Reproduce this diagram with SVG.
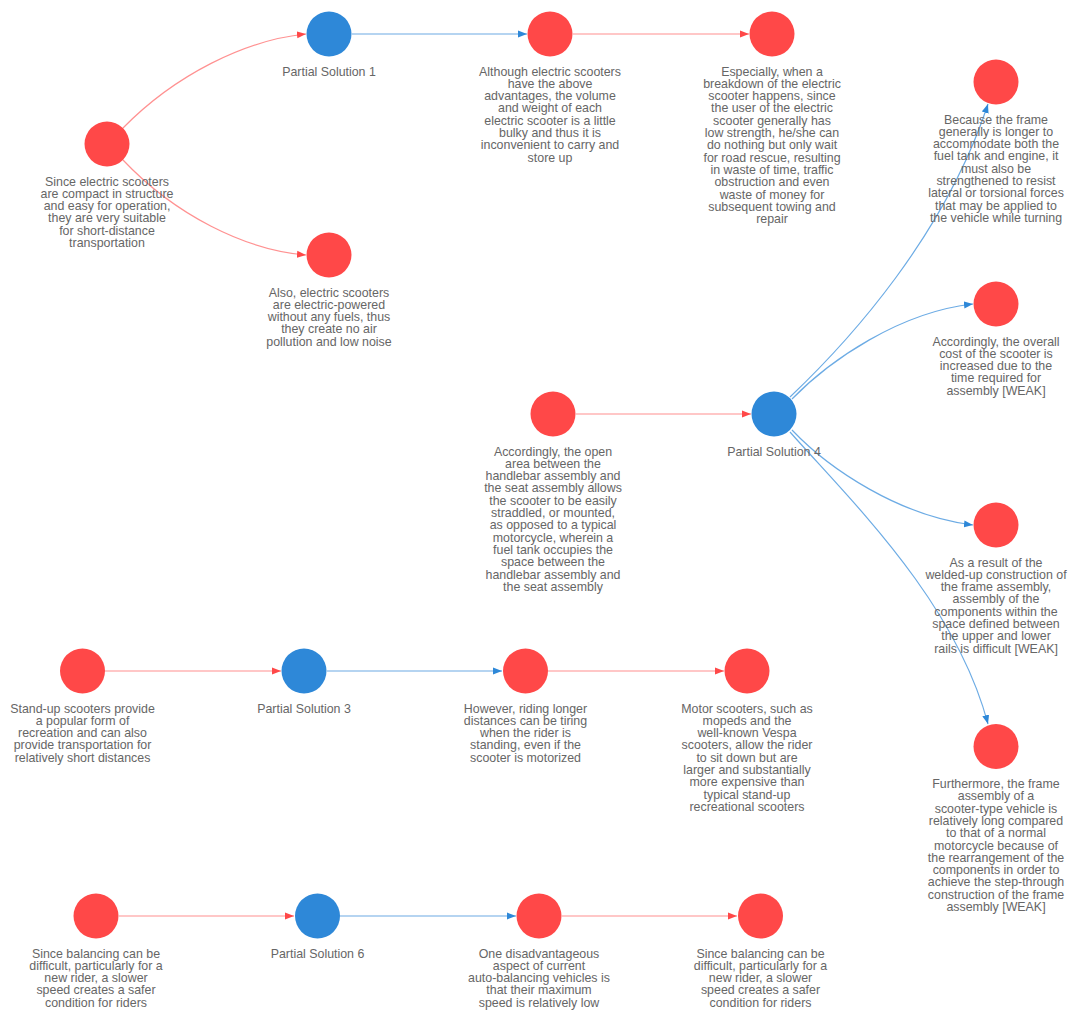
<svg xmlns="http://www.w3.org/2000/svg" width="1072" height="1012" viewBox="0 0 1072 1012">
  <style>
    .red { fill: #ff4848; }
    .blue { fill: #2e88d8; }
    .lbl { font-family: "Liberation Sans", Arial, sans-serif; font-size: 12.4px; fill: #666666; text-anchor: middle; }
    .er { fill: none; stroke: #ff4848; stroke-opacity: 0.6; stroke-width: 1.2; marker-end: url(#ar); }
    .eb { fill: none; stroke: #2e88d8; stroke-opacity: 0.7; stroke-width: 1.2; marker-end: url(#ab); }
  </style>
  <defs>
    <marker id="ar" markerUnits="userSpaceOnUse" markerWidth="10" markerHeight="8" refX="9" refY="4" orient="auto">
      <path d="M0,0.5 L9,4 L0,7.5 Z" fill="#ff4848"/>
    </marker>
    <marker id="ab" markerUnits="userSpaceOnUse" markerWidth="10" markerHeight="8" refX="9" refY="4" orient="auto">
      <path d="M0,0.5 L9,4 L0,7.5 Z" fill="#2e88d8"/>
    </marker>
  </defs>
  <rect width="1072" height="1012" fill="#ffffff"/>

  <g id="connectors">
    <path class="er" d="M123,128 C175,75 245,40 306,34"/>
    <path class="er" d="M123,160 C175,215 245,250 306,255"/>
    <path class="eb" d="M352,34 L527,34"/>
    <path class="er" d="M573,34 L749,34"/>
    <path class="er" d="M576,414 L751,414"/>
    <path class="eb" d="M790,397 C850,340 945,235 988,104"/>
    <path class="eb" d="M792,399 C830,360 900,312 973,304"/>
    <path class="eb" d="M792,430 C830,470 900,516 973,525"/>
    <path class="eb" d="M790,432 C850,500 955,600 988,724"/>
    <path class="er" d="M105,671 L281,671"/>
    <path class="eb" d="M327,671 L502,671"/>
    <path class="er" d="M548,671 L724,671"/>
    <path class="er" d="M119,916 L294,916"/>
    <path class="eb" d="M340,916 L516,916"/>
    <path class="er" d="M562,916 L737,916"/>
  </g>

  <g id="n-electric-compact">
    <circle class="red" cx="107" cy="144" r="22.5"/>
    <text class="lbl" y="185.5"><tspan x="107">Since electric scooters</tspan><tspan x="107" dy="12.3">are compact in structure</tspan><tspan x="107" dy="12.3">and easy for operation,</tspan><tspan x="107" dy="12.3">they are very suitable</tspan><tspan x="107" dy="12.3">for short-distance</tspan><tspan x="107" dy="12.3">transportation</tspan></text>
  </g>

  <g id="n-ps1">
    <circle class="blue" cx="329" cy="34" r="22.5"/>
    <text class="lbl" x="329" y="75.5">Partial Solution 1</text>
  </g>

  <g id="n-bulky">
    <circle class="red" cx="550" cy="34" r="22.5"/>
    <text class="lbl" y="75.5"><tspan x="550">Although electric scooters</tspan><tspan x="550" dy="12.3">have the above</tspan><tspan x="550" dy="12.3">advantages, the volume</tspan><tspan x="550" dy="12.3">and weight of each</tspan><tspan x="550" dy="12.3">electric scooter is a little</tspan><tspan x="550" dy="12.3">bulky and thus it is</tspan><tspan x="550" dy="12.3">inconvenient to carry and</tspan><tspan x="550" dy="12.3">store up</tspan></text>
  </g>

  <g id="n-breakdown">
    <circle class="red" cx="772" cy="34" r="22.5"/>
    <text class="lbl" y="75.5"><tspan x="772">Especially, when a</tspan><tspan x="772" dy="12.3">breakdown of the electric</tspan><tspan x="772" dy="12.3">scooter happens, since</tspan><tspan x="772" dy="12.3">the user of the electric</tspan><tspan x="772" dy="12.3">scooter generally has</tspan><tspan x="772" dy="12.3">low strength, he/she can</tspan><tspan x="772" dy="12.3">do nothing but only wait</tspan><tspan x="772" dy="12.3">for road rescue, resulting</tspan><tspan x="772" dy="12.3">in waste of time, traffic</tspan><tspan x="772" dy="12.3">obstruction and even</tspan><tspan x="772" dy="12.3">waste of money for</tspan><tspan x="772" dy="12.3">subsequent towing and</tspan><tspan x="772" dy="12.3">repair</tspan></text>
  </g>

  <g id="n-electric-powered">
    <circle class="red" cx="329" cy="255" r="22.5"/>
    <text class="lbl" y="296.5"><tspan x="329">Also, electric scooters</tspan><tspan x="329" dy="12.3">are electric-powered</tspan><tspan x="329" dy="12.3">without any fuels, thus</tspan><tspan x="329" dy="12.3">they create no air</tspan><tspan x="329" dy="12.3">pollution and low noise</tspan></text>
  </g>

  <g id="n-frame-longer">
    <circle class="red" cx="996" cy="82" r="22.5"/>
    <text class="lbl" y="123.5"><tspan x="996">Because the frame</tspan><tspan x="996" dy="12.3">generally is longer to</tspan><tspan x="996" dy="12.3">accommodate both the</tspan><tspan x="996" dy="12.3">fuel tank and engine, it</tspan><tspan x="996" dy="12.3">must also be</tspan><tspan x="996" dy="12.3">strengthened to resist</tspan><tspan x="996" dy="12.3">lateral or torsional forces</tspan><tspan x="996" dy="12.3">that may be applied to</tspan><tspan x="996" dy="12.3">the vehicle while turning</tspan></text>
  </g>

  <g id="n-overall-cost">
    <circle class="red" cx="996" cy="304" r="22.5"/>
    <text class="lbl" y="345.5"><tspan x="996">Accordingly, the overall</tspan><tspan x="996" dy="12.3">cost of the scooter is</tspan><tspan x="996" dy="12.3">increased due to the</tspan><tspan x="996" dy="12.3">time required for</tspan><tspan x="996" dy="12.3">assembly [WEAK]</tspan></text>
  </g>

  <g id="n-open-area">
    <circle class="red" cx="553" cy="414" r="22.5"/>
    <text class="lbl" y="455.5"><tspan x="553">Accordingly, the open</tspan><tspan x="553" dy="12.3">area between the</tspan><tspan x="553" dy="12.3">handlebar assembly and</tspan><tspan x="553" dy="12.3">the seat assembly allows</tspan><tspan x="553" dy="12.3">the scooter to be easily</tspan><tspan x="553" dy="12.3">straddled, or mounted,</tspan><tspan x="553" dy="12.3">as opposed to a typical</tspan><tspan x="553" dy="12.3">motorcycle, wherein a</tspan><tspan x="553" dy="12.3">fuel tank occupies the</tspan><tspan x="553" dy="12.3">space between the</tspan><tspan x="553" dy="12.3">handlebar assembly and</tspan><tspan x="553" dy="12.3">the seat assembly</tspan></text>
  </g>

  <g id="n-ps4">
    <circle class="blue" cx="774" cy="414" r="22.5"/>
    <text class="lbl" x="774" y="455.5">Partial Solution 4</text>
  </g>

  <g id="n-welded">
    <circle class="red" cx="996" cy="525" r="22.5"/>
    <text class="lbl" y="566.5"><tspan x="996">As a result of the</tspan><tspan x="996" dy="12.3">welded-up construction of</tspan><tspan x="996" dy="12.3">the frame assembly,</tspan><tspan x="996" dy="12.3">assembly of the</tspan><tspan x="996" dy="12.3">components within the</tspan><tspan x="996" dy="12.3">space defined between</tspan><tspan x="996" dy="12.3">the upper and lower</tspan><tspan x="996" dy="12.3">rails is difficult [WEAK]</tspan></text>
  </g>

  <g id="n-frame-long">
    <circle class="red" cx="996" cy="746.5" r="22.5"/>
    <text class="lbl" y="788"><tspan x="996">Furthermore, the frame</tspan><tspan x="996" dy="12.3">assembly of a</tspan><tspan x="996" dy="12.3">scooter-type vehicle is</tspan><tspan x="996" dy="12.3">relatively long compared</tspan><tspan x="996" dy="12.3">to that of a normal</tspan><tspan x="996" dy="12.3">motorcycle because of</tspan><tspan x="996" dy="12.3">the rearrangement of the</tspan><tspan x="996" dy="12.3">components in order to</tspan><tspan x="996" dy="12.3">achieve the step-through</tspan><tspan x="996" dy="12.3">construction of the frame</tspan><tspan x="996" dy="12.3">assembly [WEAK]</tspan></text>
  </g>

  <g id="n-stand-up">
    <circle class="red" cx="82.5" cy="671" r="22.5"/>
    <text class="lbl" y="712.5"><tspan x="82.5">Stand-up scooters provide</tspan><tspan x="82.5" dy="12.3">a popular form of</tspan><tspan x="82.5" dy="12.3">recreation and can also</tspan><tspan x="82.5" dy="12.3">provide transportation for</tspan><tspan x="82.5" dy="12.3">relatively short distances</tspan></text>
  </g>

  <g id="n-ps3">
    <circle class="blue" cx="304" cy="671" r="22.5"/>
    <text class="lbl" x="304" y="712.5">Partial Solution 3</text>
  </g>

  <g id="n-tiring">
    <circle class="red" cx="525.5" cy="671" r="22.5"/>
    <text class="lbl" y="712.5"><tspan x="525.5">However, riding longer</tspan><tspan x="525.5" dy="12.3">distances can be tiring</tspan><tspan x="525.5" dy="12.3">when the rider is</tspan><tspan x="525.5" dy="12.3">standing, even if the</tspan><tspan x="525.5" dy="12.3">scooter is motorized</tspan></text>
  </g>

  <g id="n-motor-scooters">
    <circle class="red" cx="747" cy="671" r="22.5"/>
    <text class="lbl" y="712.5"><tspan x="747">Motor scooters, such as</tspan><tspan x="747" dy="12.3">mopeds and the</tspan><tspan x="747" dy="12.3">well-known Vespa</tspan><tspan x="747" dy="12.3">scooters, allow the rider</tspan><tspan x="747" dy="12.3">to sit down but are</tspan><tspan x="747" dy="12.3">larger and substantially</tspan><tspan x="747" dy="12.3">more expensive than</tspan><tspan x="747" dy="12.3">typical stand-up</tspan><tspan x="747" dy="12.3">recreational scooters</tspan></text>
  </g>

  <g id="n-balancing-1">
    <circle class="red" cx="96" cy="916" r="22.5"/>
    <text class="lbl" y="957.5"><tspan x="96">Since balancing can be</tspan><tspan x="96" dy="12.3">difficult, particularly for a</tspan><tspan x="96" dy="12.3">new rider, a slower</tspan><tspan x="96" dy="12.3">speed creates a safer</tspan><tspan x="96" dy="12.3">condition for riders</tspan></text>
  </g>

  <g id="n-ps6">
    <circle class="blue" cx="317.5" cy="916" r="22.5"/>
    <text class="lbl" x="317.5" y="957.5">Partial Solution 6</text>
  </g>

  <g id="n-max-speed">
    <circle class="red" cx="539" cy="916" r="22.5"/>
    <text class="lbl" y="957.5"><tspan x="539">One disadvantageous</tspan><tspan x="539" dy="12.3">aspect of current</tspan><tspan x="539" dy="12.3">auto-balancing vehicles is</tspan><tspan x="539" dy="12.3">that their maximum</tspan><tspan x="539" dy="12.3">speed is relatively low</tspan></text>
  </g>

  <g id="n-balancing-2">
    <circle class="red" cx="760.5" cy="916" r="22.5"/>
    <text class="lbl" y="957.5"><tspan x="760.5">Since balancing can be</tspan><tspan x="760.5" dy="12.3">difficult, particularly for a</tspan><tspan x="760.5" dy="12.3">new rider, a slower</tspan><tspan x="760.5" dy="12.3">speed creates a safer</tspan><tspan x="760.5" dy="12.3">condition for riders</tspan></text>
  </g>
</svg>
